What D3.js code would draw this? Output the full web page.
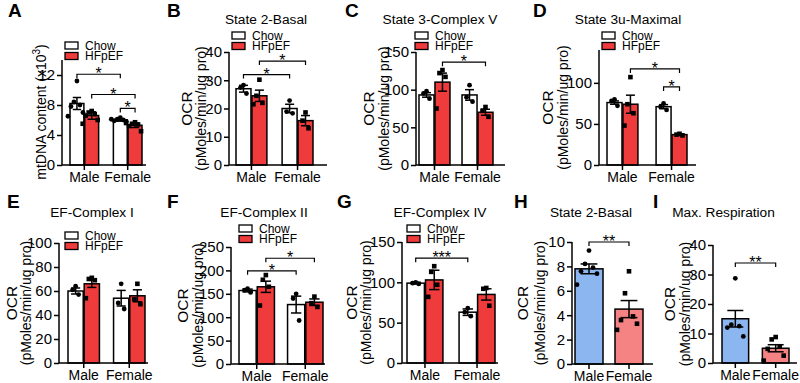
<!DOCTYPE html>
<html><head><meta charset="utf-8">
<script src="https://cdn.jsdelivr.net/npm/d3@7"></script>
<style>body{margin:0;background:#fff} svg{font-family:"Liberation Sans",Arial,sans-serif}</style>
</head><body><svg id="c" width="800" height="383"></svg>
<script>
// ---------- DATA ----------
const groups = ["Male", "Female"];
const diets = ["Chow", "HFpEF"];
// order of bars in grouped panels: Male-Chow, Male-HFpEF, Female-Chow, Female-HFpEF

// A: mtDNA content (x10^3)
const aTicks = [0, 4, 8, 12];
const aMeans = [8.2, 6.6, 6.0, 5.3];
const aSems = [0.8, 0.5, 0.15, 0.3];
const aPoints = [[11.2, 8.4, 8.0, 7.8, 7.0, 6.5], [7.2, 7.0, 6.8, 6.6, 6.0, 5.5], [6.3, 6.1, 6.0, 5.9, 5.8, 6.1], [5.7, 5.5, 5.4, 5.2, 4.5, 5.6]];

// B: State 2-Basal
const bTicks = [0, 10, 20, 30, 40];
const bMeans = [27, 24.5, 20, 15.7];
const bSems = [1.2, 2.0, 1.5, 1.8];
const bPoints = [[28.3, 27.4, 25.3], [30.2, 24.5, 22.0, 21.5], [22.8, 18.9, 18.3], [18.6, 15.7, 13.0]];

// C: State 3-Complex V
const cTicks = [0, 50, 100, 150];
const cMeans = [93, 110, 93, 70];
const cSems = [3, 12, 7, 4];
const cPoints = [[98, 95, 88], [126, 122, 117, 75], [106, 90, 84], [77, 72, 64]];

// D: State 3u-Maximal
const dTicks = [0, 50, 100];
const dMeans = [76, 74, 71, 37];
const dSems = [2, 11, 2.5, 1];
const dPoints = [[80, 78, 72], [107, 74, 63, 48], [75, 71, 67], [38, 37, 36]];

// E: EF-Complex I
const eTicks = [0, 20, 40, 60, 80, 100];
const eMeans = [60, 66, 54, 56];
const eSems = [2.5, 3, 6.5, 5];
const ePoints = [[64, 61, 57], [71, 70, 69, 54], [66, 50, 45], [66, 53, 49]];

// F: EF-Complex II
const fTicks = [0, 50, 100, 150, 200, 250];
const fMeans = [157, 165, 127, 132];
const fSems = [3, 12, 18, 7];
const fPoints = [[161, 158, 153], [190, 180, 165, 125], [150, 140, 93], [144, 130, 122]];

// G: EF-Complex IV
const gTicks = [0, 50, 100, 150];
const gMeans = [99, 103, 63, 85];
const gSems = [1, 12, 4, 7];
const gPoints = [[100, 99, 98], [120, 113, 97, 82], [68, 63, 58], [93, 92, 71]];

// H: State 2-Basal (Male vs Female)
const hTicks = [0, 2, 4, 6, 8, 10];
const hMeans = [7.8, 4.5];
const hSems = [0.4, 0.7];
const hPoints = [[9.3, 8.2, 7.9, 7.6, 7.4, 6.5], [7.6, 5.8, 3.9, 3.6, 3.3, 2.8]];

// I: Max. Respiration
const iTicks = [0, 10, 20, 30, 40];
const iMeans = [15, 5];
const iSems = [2.8, 1.2];
const iPoints = [[28.7, 13, 12.5, 12, 9], [8.8, 8.0, 5.5, 4.8, 2.5, 0.8]];

// significance brackets: [fromGroup, fromDiet, toGroup, toDiet, yValue, label]
const aSig = [["Male","Chow","Female","Chow",12.1,"*"], ["Male","HFpEF","Female","HFpEF",9.4,"*"], ["Female","Chow","Female","HFpEF",7.55,"*"]];
const bSig = [["Male","Chow","Female","Chow",32,"*"], ["Male","HFpEF","Female","HFpEF",36.8,"*"]];
const cSig = [["Male","HFpEF","Female","HFpEF",136.5,"*"]];
const dSig = [["Male","HFpEF","Female","HFpEF",117,"*"], ["Female","Chow","Female","HFpEF",95,"*"]];
const fSig = [["Male","Chow","Female","Chow",199,"*"], ["Male","HFpEF","Female","HFpEF",226,"*"]];
const gSig = [["Male","Chow","Female","Chow",130,"***"]];
const hSig = [["Male",null,"Female",null,10,"**"]];
const iSig = [["Male",null,"Female",null,33.9,"**"]];

// ---------- STYLE ----------
const dietColor = {Chow: "#ffffff", HFpEF: "#ef3b3b"};
const sexColor = {Male: "#8cb6f0", Female: "#f58383"};
const svg = d3.select("#c");

function jitter(n, sp) {
  return d3.range(n).map(i => (i % 2 ? -1 : 1) * Math.ceil(i / 2) * sp);
}

function panel(cfg) {
  const g = svg.append("g");
  const y = d3.scaleLinear().domain([0, cfg.max]).range([cfg.yBot, cfg.yTop]);
  const gx = d3.scaleBand().domain(groups).range([cfg.barL, cfg.barR]).paddingInner(cfg.pad);
  const sx = d3.scaleBand().domain(cfg.single ? ["x"] : diets).range([0, gx.bandwidth()]).paddingInner(cfg.single ? 0 : 0.06);

  const bars = [];
  groups.forEach((grp, gi) => {
    if (cfg.single) {
      bars.push({grp, diet: null, x: gx(grp), w: gx.bandwidth(), mean: cfg.means[gi], sem: cfg.sems[gi], pts: cfg.points[gi], fill: sexColor[grp], square: gi === 1});
    } else {
      diets.forEach((d, di) => {
        const k = gi * 2 + di;
        bars.push({grp, diet: d, x: gx(grp) + sx(d), w: sx.bandwidth(), mean: cfg.means[k], sem: cfg.sems[k], pts: cfg.points[k], fill: dietColor[d], square: di === 1});
      });
    }
  });

  // bars
  g.selectAll("rect.bar").data(bars).join("rect").attr("class", "bar")
    .attr("x", d => d.x).attr("width", d => d.w)
    .attr("y", d => y(d.mean)).attr("height", d => cfg.yBot - y(d.mean))
    .attr("fill", d => d.fill).attr("stroke", "#000").attr("stroke-width", 1.5);

  // error bars + points
  bars.forEach(d => {
    const cx = d.x + d.w / 2, cw = d.w * 0.3;
    const eg = g.append("g").attr("stroke", "#000").attr("stroke-width", 1.5);
    eg.append("line").attr("x1", cx).attr("x2", cx).attr("y1", y(d.mean - d.sem)).attr("y2", y(d.mean + d.sem));
    eg.append("line").attr("x1", cx - cw).attr("x2", cx + cw).attr("y1", y(d.mean + d.sem)).attr("y2", y(d.mean + d.sem));
    eg.append("line").attr("x1", cx - cw).attr("x2", cx + cw).attr("y1", y(d.mean - d.sem)).attr("y2", y(d.mean - d.sem));
    const off = jitter(d.pts.length, cfg.single ? 4 : 3);
    d.pts.forEach((v, i) => {
      const px = cx + off[i], py = y(v);
      if (d.square) g.append("rect").attr("x", px - 2.3).attr("y", py - 2.3).attr("width", 4.6).attr("height", 4.6).attr("fill", "#000");
      else g.append("circle").attr("cx", px).attr("cy", py).attr("r", 2.4).attr("fill", "#000");
    });
  });

  // y axis
  const ya = g.append("g").attr("transform", `translate(${cfg.x0},0)`)
    .call(d3.axisLeft(y).tickValues(cfg.ticks).tickSize(5).tickSizeOuter(0).tickPadding(2));
  ya.select(".domain").attr("d", `M0,${cfg.yBot}V${cfg.yTop}`).attr("stroke-width", 1.5);
  ya.selectAll(".tick line").attr("stroke-width", 1.5);
  ya.selectAll("text").attr("font-size", 15).attr("fill", "#000").style("font-family", "Liberation Sans, Arial, sans-serif");

  // x axis
  const xa = g.append("g").attr("transform", `translate(0,${cfg.yBot})`)
    .call(d3.axisBottom(gx).tickSize(5).tickSizeOuter(0).tickPadding(2));
  xa.select(".domain").attr("d", `M${cfg.x0},0H${cfg.x1}`).attr("stroke-width", 1.5);
  xa.selectAll(".tick line").attr("stroke-width", 1.5);
  xa.selectAll("text").attr("font-size", 14).attr("fill", "#000").style("font-family", "Liberation Sans, Arial, sans-serif");

  // significance brackets
  (cfg.sig || []).forEach(s => {
    const xa1 = cfg.single ? gx(s[0]) + gx.bandwidth() / 2 : gx(s[0]) + sx(s[1]) + sx.bandwidth() / 2;
    const xa2 = cfg.single ? gx(s[2]) + gx.bandwidth() / 2 : gx(s[2]) + sx(s[3]) + sx.bandwidth() / 2;
    const yy = y(s[4]);
    g.append("path").attr("d", `M${xa1},${yy + 4}V${yy}H${xa2}V${yy + 4}`).attr("fill", "none").attr("stroke", "#000").attr("stroke-width", 1.2);
    g.append("text").attr("x", (xa1 + xa2) / 2).attr("y", yy + 5).attr("text-anchor", "middle").attr("font-size", 16).text(s[5]);
  });

  // legend
  if (cfg.legend) {
    diets.forEach((d, i) => {
      const ly = cfg.legend[1] + i * 10.5;
      g.append("rect").attr("x", cfg.legend[0]).attr("y", ly).attr("width", 13).attr("height", 7)
        .attr("fill", dietColor[d]).attr("stroke", "#000").attr("stroke-width", 1.3);
      g.append("text").attr("x", cfg.legend[0] + 20).attr("y", ly + 3.5).attr("dy", "0.35em")
        .attr("font-size", 12).text(d);
    });
  }

  if (cfg.title) g.append("text").attr("x", cfg.titleX).attr("y", cfg.titleY).attr("text-anchor", "middle").attr("font-size", 13.7).text(cfg.title);
  g.append("text").attr("x", cfg.letter[1]).attr("y", cfg.letter[2]).attr("font-size", 19).attr("font-weight", "bold").text(cfg.letter[0]);

  const mid = (cfg.yBot + cfg.yTop) / 2;
  if (cfg.ylab) {
    g.append("text").attr("transform", `translate(${cfg.ylab[0]},${mid}) rotate(-90)`).attr("text-anchor", "middle").attr("font-size", 15.5).text("OCR");
    g.append("text").attr("transform", `translate(${cfg.ylab[1]},${mid}) rotate(-90)`).attr("text-anchor", "middle").attr("font-size", 14).text("(pMoles/min/ug pro)");
  }
  return g;
}

// ---------- PANELS ----------
const pA = panel({x0: 62, x1: 146, barL: 70, barR: 142, pad: 0.34, yBot: 165, yTop: 60, max: 14, ticks: aTicks,
  means: aMeans, sems: aSems, points: aPoints, sig: aSig, legend: [65, 42], letter: ["A", 8, 17]});
const aLab = pA.append("text").attr("transform", "translate(46,112) rotate(-90)").attr("text-anchor", "middle").attr("font-size", 14);
aLab.append("tspan").text("mtDNA content (x10");
aLab.append("tspan").attr("font-size", 10).attr("dy", -6).text("3");
aLab.append("tspan").attr("dy", 6).text(")");

panel({x0: 229, x1: 327, barL: 236, barR: 313, pad: 0.33, yBot: 165, yTop: 52, max: 40, ticks: bTicks,
  means: bMeans, sems: bSems, points: bPoints, sig: bSig, legend: [232, 32], title: "State 2-Basal", titleX: 266, titleY: 24,
  letter: ["B", 167, 17], ylab: [192, 206]});
panel({x0: 416, x1: 505, barL: 419, barR: 493, pad: 0.28, yBot: 165, yTop: 52, max: 150, ticks: cTicks,
  means: cMeans, sems: cSems, points: cPoints, sig: cSig, legend: [415, 32], title: "State 3-Complex V", titleX: 440, titleY: 24,
  letter: ["C", 345, 17], ylab: [374, 389]});
panel({x0: 599, x1: 696, barL: 607, barR: 687, pad: 0.37, yBot: 165, yTop: 50, max: 140, ticks: dTicks,
  means: dMeans, sems: dSems, points: dPoints, sig: dSig, legend: [602, 32], title: "State 3u-Maximal", titleX: 628, titleY: 24,
  letter: ["D", 533, 17], ylab: [553, 568]});

panel({x0: 59, x1: 148, barL: 68, barR: 145, pad: 0.31, yBot: 363, yTop: 243, max: 100, ticks: eTicks,
  means: eMeans, sems: eSems, points: ePoints, sig: [], legend: [65, 232], title: "EF-Complex I", titleX: 92, titleY: 217,
  letter: ["E", 7, 208], ylab: [17, 31]});
panel({x0: 231, x1: 325, barL: 239, barR: 323, pad: 0.27, yBot: 364, yTop: 247, max: 250, ticks: fTicks,
  means: fMeans, sems: fSems, points: fPoints, sig: fSig, legend: [239, 225], title: "EF-Complex II", titleX: 264, titleY: 217,
  letter: ["F", 167, 208], ylab: [188, 203]});
panel({x0: 402, x1: 498, barL: 407, barR: 495, pad: 0.31, yBot: 363, yTop: 242, max: 150, ticks: gTicks,
  means: gMeans, sems: gSems, points: gPoints, sig: gSig, legend: [407, 225], title: "EF-Complex IV", titleX: 440, titleY: 217,
  letter: ["G", 337, 208], ylab: [357, 371]});
panel({x0: 572, x1: 653, barL: 575, barR: 643, pad: 0.3, yBot: 364, yTop: 242, max: 10, ticks: hTicks, single: true,
  means: hMeans, sems: hSems, points: hPoints, sig: hSig, title: "State 2-Basal", titleX: 591, titleY: 217,
  letter: ["H", 514, 208], ylab: [528, 545]});
panel({x0: 713, x1: 797, barL: 722, barR: 789, pad: 0.34, yBot: 363, yTop: 245, max: 40, ticks: iTicks, single: true,
  means: iMeans, sems: iSems, points: iPoints, sig: iSig, title: "Max. Respiration", titleX: 723.5, titleY: 217,
  letter: ["I", 653, 208], ylab: [675, 690]});
</script></body></html>
